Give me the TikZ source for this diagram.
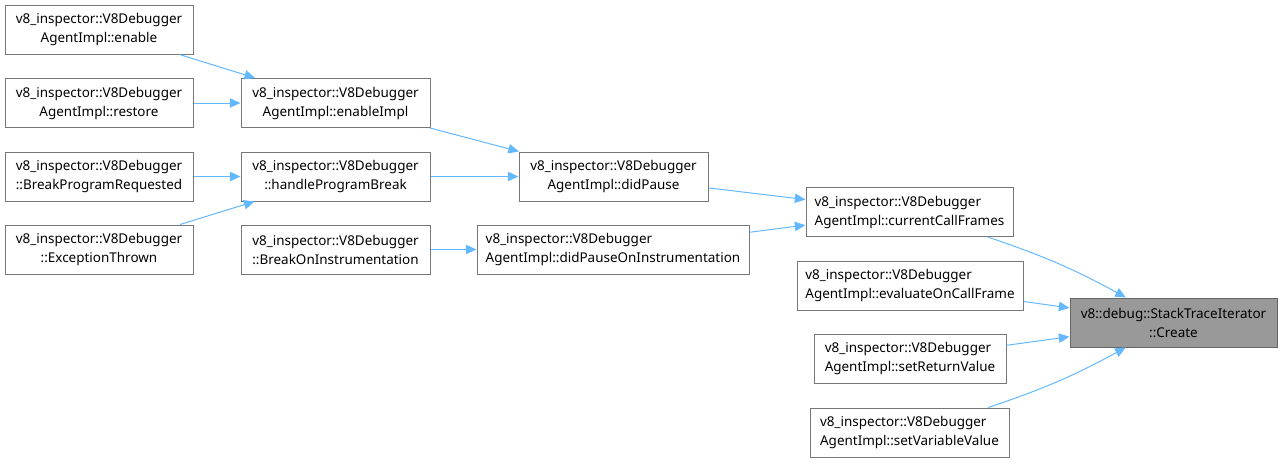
\documentclass[tikz,border=0pt]{standalone}
\usepackage{fontspec}
\setmainfont{Noto Sans}
\usetikzlibrary{arrows.meta}

\definecolor{edgeblue}{HTML}{63B8FF}
\definecolor{boxline}{HTML}{777777}
\definecolor{rootline}{HTML}{666666}
\definecolor{rootfill}{HTML}{999999}

\tikzset{
  fn/.style={draw=boxline, fill=white, line width=0.75pt, minimum height=36.75pt,
    inner xsep=6pt, inner ysep=2pt, align=center,
    font=\fontsize{10.1pt}{14.25pt}\selectfont},
  rootfn/.style={fn, draw=rootline, fill=rootfill},
  call/.style={draw=edgeblue, line width=0.75pt, -{Triangle[length=8pt,width=7pt]}}
}

\begin{document}
\begin{tikzpicture}[x=0.75pt,y=-0.75pt]
\useasboundingbox (0,0) rectangle (1282,462);

% first column
\node[fn, minimum width=141pt] (enable) at (99,29.5) {v8\_inspector::V8Debugger\\AgentImpl::enable};
\node[fn, minimum width=141pt] (restore) at (99,103) {v8\_inspector::V8Debugger\\AgentImpl::restore};
\node[fn, minimum width=141pt] (breakReq) at (99,176.5) {v8\_inspector::V8Debugger\\::BreakProgramRequested};
\node[fn, minimum width=141pt] (excThrown) at (99,249.5) {v8\_inspector::V8Debugger\\::ExceptionThrown};

% second column
\node[fn, minimum width=141.75pt] (enableImpl) at (335.5,103) {v8\_inspector::V8Debugger\\AgentImpl::enableImpl};
\node[fn, minimum width=141.75pt] (handleBreak) at (335.5,176.5) {v8\_inspector::V8Debugger\\::handleProgramBreak};
\node[fn, minimum width=141.75pt] (breakInstr) at (335.5,249.5) {v8\_inspector::V8Debugger\\::BreakOnInstrumentation};

% third column
\node[fn, minimum width=141.75pt] (didPause) at (613.5,176.5) {v8\_inspector::V8Debugger\\AgentImpl::didPause};
\node[fn, minimum width=204pt, align=left] (didPauseInstr) at (613,249.5) {v8\_inspector::V8Debugger\\AgentImpl::didPauseOnInstrumentation};

% fourth column
\node[fn, minimum width=155.25pt, align=left] (callFrames) at (909.5,212) {v8\_inspector::V8Debugger\\AgentImpl::currentCallFrames};
\node[fn, minimum width=169.5pt, align=left] (evalFrame) at (910,285.5) {v8\_inspector::V8Debugger\\AgentImpl::evaluateOnCallFrame};
\node[fn, minimum width=144pt, align=left] (setReturn) at (910,358.5) {v8\_inspector::V8Debugger\\AgentImpl::setReturnValue};
\node[fn, minimum width=149.25pt, align=left] (setVariable) at (909.5,432.5) {v8\_inspector::V8Debugger\\AgentImpl::setVariableValue};

% callee
\node[rootfn, minimum width=155.25pt] (create) at (1173.5,322.5) {v8::debug::StackTraceIterator\\::Create};

% calls
\draw[call] (enable) -- (enableImpl);
\draw[call] (restore) -- (enableImpl);
\draw[call] (breakReq) -- (handleBreak);
\draw[call] (excThrown) -- (handleBreak);
\draw[call] (enableImpl) -- (didPause);
\draw[call] (handleBreak) -- (didPause);
\draw[call] (breakInstr) -- (didPauseInstr);
\draw[call] (didPause) -- (callFrames);
\draw[call] (didPauseInstr) -- (callFrames);
\draw[call] (callFrames) to[bend left=5] (create);
\draw[call] (evalFrame) -- (create);
\draw[call] (setReturn) -- (create);
\draw[call] (setVariable) to[bend right=5] (create);
\end{tikzpicture}
\end{document}
